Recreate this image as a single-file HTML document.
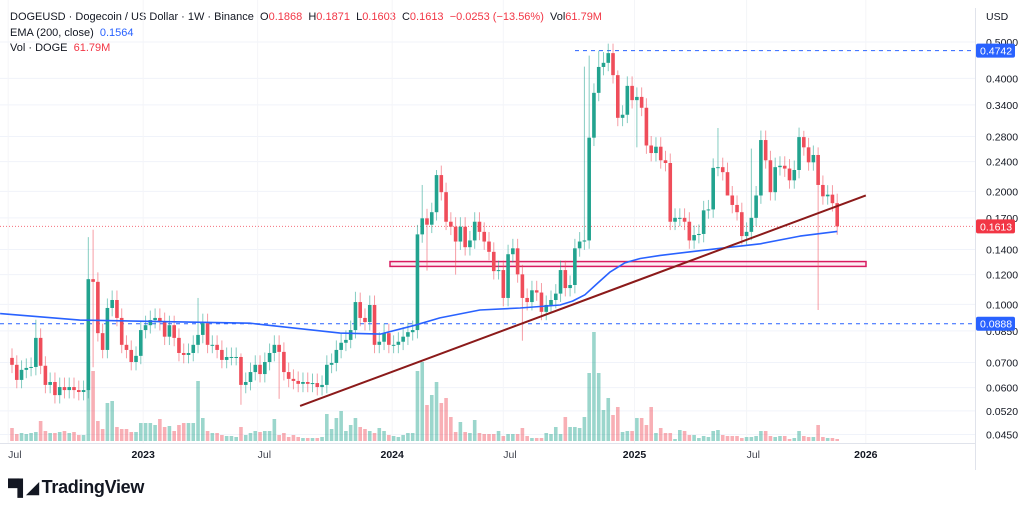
<!DOCTYPE html>
<html><head><meta charset="utf-8">
<style>
html,body{margin:0;padding:0;background:#fff;}
body{width:1024px;height:516px;overflow:hidden;position:relative;font-family:"Liberation Sans",sans-serif;}
.hdr{position:absolute;left:10px;font-size:11px;color:#131722;white-space:nowrap;}
.r{color:#f23645}.b{color:#2962ff}
</style></head>
<body>
<div class="hdr" style="top:11px">DOGEUSD · Dogecoin / US Dollar · 1W · Binance&nbsp; O<span class="r">0.1868</span>&nbsp; H<span class="r">0.1871</span>&nbsp; L<span class="r">0.1603</span>&nbsp; C<span class="r">0.1613</span>&nbsp; <span class="r">−0.0253 (−13.56%)</span>&nbsp; Vol<span class="r">61.79M</span></div>
<div class="hdr" style="top:27px">EMA (200, close)&nbsp; <span class="b">0.1564</span></div>
<div class="hdr" style="top:42px">Vol · DOGE&nbsp; <span class="r">61.79M</span></div>
<svg id="chart" width="1024" height="516" style="position:absolute;left:0;top:0" xmlns="http://www.w3.org/2000/svg"></svg>
<div style="position:absolute;left:8px;top:477px;font-size:18px;font-weight:bold;color:#131722;letter-spacing:-0.3px"><span style="font-size:16px;letter-spacing:-2px">▀▌◢</span> TradingView</div>
<script>
const closes=[0.0690,0.0629,0.0669,0.0677,0.0681,0.0814,0.0686,0.0610,0.0621,0.0573,0.0602,0.0591,0.0602,0.0591,0.0584,0.0591,
0.1167,0.1148,0.0838,0.0756,0.0978,0.1027,0.0920,0.0780,0.0756,0.0702,0.0729,0.0854,0.0880,0.0908,0.0920,0.0897,0.0820,0.0880,0.0814,0.0742,
0.0733,0.0742,0.0780,0.0829,0.0891,0.0780,0.0780,0.0756,0.0711,0.0724,0.0724,0.0724,0.0610,0.0621,0.0660,0.0690,0.0652,0.0702,0.0742,0.0780,
0.0747,0.0660,0.0633,0.0625,0.0614,0.0621,0.0614,0.0617,0.0602,0.0610,0.0690,0.0698,0.0756,0.0790,0.0804,0.0854,0.1014,0.0920,0.0897,0.0996,
0.0780,0.0795,0.0838,0.0780,0.0780,0.0795,0.0820,0.0843,0.0854,0.1536,
0.1695,0.1630,0.176,0.221,0.199,0.166,0.161,0.147,0.161,0.142,0.148,0.166,0.156,0.147,0.138,0.1226,0.1234,0.1040,0.136,0.141,0.1202,0.1040,0.1014,0.109,0.1075,0.0955,0.0996,0.1027,0.1068,0.1234,0.1105,0.1126,0.141,0.147,0.148,
0.278,0.366,0.429,0.440,0.467,0.408,0.314,0.320,0.382,0.350,0.357,0.334,0.265,0.253,0.263,0.242,0.238,0.166,0.170,0.170,0.166,0.148,0.153,0.154,0.178,0.179,0.231,0.232,0.225,0.195,0.184,0.176,0.152,0.156,0.170,0.195,0.274,0.242,0.199,0.232,0.234,0.230,0.214,0.228,0.279,0.262,0.239,0.250,0.208,0.194,0.196,0.186,0.1613];
const firstOpen=0.072;
const volumes=[13,7,8,7,8,9,20,10,8,8,9,10,8,9,6,6,
85,70,20,12,38,40,14,12,12,9,9,18,18,18,16,22,14,15,10,16,18,18,18,60,23,10,8,8,6,5,5,4,14,6,8,10,9,10,10,22,6,8,4,6,4,3,3,3,3,4,27,12,23,30,10,16,23,14,12,10,8,13,10,6,5,4,6,8,8,70,
79,36,46,59,38,43,24,9,19,9,8,21,8,7,7,7,10,5,7,7,7,13,5,3,3,3,8,7,14,7,24,14,14,13,24,
68,109,68,31,43,26,34,9,10,10,23,23,16,34,8,13,8,8,2,11,10,6,6,3,5,4,10,11,6,5,5,5,3,4,4,5,10,10,5,4,5,5,2,3,10,5,4,4,16,4,3,3,2];
const highIdx=[5,16,17,39,48,72,86,89,120,121,123,124,127,155,166,148,169];
const highVals=[0.091,0.151,0.158,0.104,0.074,0.108,0.208,0.228,0.43,0.46,0.474,0.47,0.42,0.26,0.29,0.295,0.262];
const lowIdx=[17,48,56,87,93,107,131,150,169];
const lowVals=[0.068,0.054,0.056,0.123,0.120,0.080,0.262,0.204,0.0966];
const emaIdx=[-2.5,14.2,49.9,68.8,77.2,84.5,89.7,98.1,106.5,114.9,117.5,120.1,122.8,125.4,128.5,131.7,135.9,142.2,148.5,156.9,165.2,173];
const emaVals=[0.0945,0.0908,0.0891,0.0838,0.0833,0.0880,0.0920,0.0966,0.0978,0.0996,0.1020,0.1060,0.1140,0.1220,0.1290,0.1325,0.135,0.138,0.141,0.145,0.152,0.1564];
const priceTicks=[0.5,0.4,0.34,0.28,0.24,0.2,0.17,0.14,0.12,0.1,0.085,0.07,0.06,0.052,0.045];
const tickLabels=["0.5000","0.4000","0.3400","0.2800","0.2400","0.2000","0.1700","0.1400","0.1200","0.1000","0.0850","0.0700","0.0600","0.0520","0.0450"];
const timeLabels=["Jul","2023","Jul","2024","Jul","2025","Jul","2026"];
const timeIdx=[-0.8,27.5,51.5,79.7,103,130.5,154,179];
const trendIdx=[60.4,179];
const trendVals=[0.0536,0.195];
const zoneVals=[0.1300,0.1262];
const lastPrice=0.1613, athLevel=0.4742, supportLevel=0.0888;

const NS="http://www.w3.org/2000/svg";
const svg=document.getElementById('chart');
const X=i=>12+i*4.77;
const Y=p=>42+163*Math.log(0.5/p);
const VB=441, VK=1.0;
function el(t,a,parent){const e=document.createElementNS(NS,t);for(const k in a)e.setAttribute(k,a[k]);(parent||svg).appendChild(e);return e;}
const GREEN="#22a38f",RED="#ef4d5a";
priceTicks.forEach((p,i)=>{
  const g=el('line',{x1:0,x2:975,y1:Y(p),y2:Y(p),stroke:'#f0f3fa','stroke-width':1});
  
  
  const t=el('text',{x:986,y:Y(p)+4,'font-size':10.5,fill:'#131722','font-family':'Liberation Sans, sans-serif'});
  t.textContent=tickLabels[i];
  
  
});
timeIdx.forEach((ix,i)=>{
  const g=el('line',{x1:X(ix),x2:X(ix),y1:0,y2:443,stroke:'#f4f5f8','stroke-width':1});
  
  
  const bold=/^\d/.test(timeLabels[i]);
  const t=el('text',{x:X(ix),y:458,'font-size':10.5,'text-anchor':bold?'middle':'start',fill:bold?'#131722':'#434651','font-weight':bold?'bold':'normal','font-family':'Liberation Sans, sans-serif'});
  t.textContent=timeLabels[i];
  
  
});
let ax=el('line',{x1:975.5,x2:975.5,y1:8,y2:470,stroke:'#e0e3eb'});


let bx=el('line',{x1:0,x2:975,y1:443.5,y2:443.5,stroke:'#e0e3eb'});


let usd=el('text',{x:986,y:20,'font-size':10.5,fill:'#131722','font-family':'Liberation Sans, sans-serif'});
usd.textContent='USD';


let z=el('rect',{x:390,y:Y(zoneVals[0]),width:476,height:Y(zoneVals[1])-Y(zoneVals[0]),fill:'rgba(233,30,99,0.08)',stroke:'#d81b60','stroke-width':1.5});


closes.forEach((c,i)=>{
  const o=i?closes[i-1]:firstOpen;
  const h=volumes[i]*VK;
  const r=el('rect',{x:X(i)-1.8,y:VB-h,width:3.6,height:h,fill:c>=o?'rgba(34,163,143,0.45)':'rgba(239,77,90,0.45)'});
  
  
});
let l1=el('line',{x1:575,x2:975,y1:Y(athLevel),y2:Y(athLevel),stroke:'#2962ff','stroke-dasharray':'4 4','stroke-width':1});


let l2=el('line',{x1:0,x2:975,y1:Y(supportLevel),y2:Y(supportLevel),stroke:'#2962ff','stroke-dasharray':'4 4','stroke-width':1});


let l3=el('line',{x1:0,x2:975,y1:Y(lastPrice),y2:Y(lastPrice),stroke:'#f23645','stroke-dasharray':'1 2','stroke-width':1,opacity:0.7});


closes.forEach((c,i)=>{
  const o=i?closes[i-1]:firstOpen;
  let hi=Math.max(o,c)*1.06, lo=Math.min(o,c)*0.95;
  const hk=highIdx.indexOf(i); if(hk>=0)hi=highVals[hk];
  const lk=lowIdx.indexOf(i); if(lk>=0)lo=lowVals[lk];
  const col=c>=o?GREEN:RED;
  const g=el('g',{});
  
  
  el('line',{x1:X(i),x2:X(i),y1:Y(hi),y2:Y(lo),stroke:col,'stroke-width':1,opacity:0.55},g);
  const top=Y(Math.max(o,c)),bot=Y(Math.min(o,c));
  el('rect',{x:X(i)-1.8,y:top,width:3.6,height:Math.max(1,bot-top),fill:col},g);
});
let d='';emaIdx.forEach((ix,i)=>{d+=(i?'L':'M')+X(ix).toFixed(1)+','+Y(emaVals[i]).toFixed(1);});
let ema=el('path',{d:d,fill:'none',stroke:'#2962ff','stroke-width':1.6,'stroke-linejoin':'round'});


let tr=el('line',{x1:X(trendIdx[0]),y1:Y(trendVals[0]),x2:X(trendIdx[1]),y2:Y(trendVals[1]),stroke:'#8b1a1a','stroke-width':2});


function badge(p,txt,col,name){
  const g=el('g',{});
  
  
  el('rect',{x:976,y:Y(p)-7,width:39,height:14,fill:col,rx:2},g);
  const t=el('text',{x:980,y:Y(p)+4,'font-size':10.5,fill:'#fff','font-family':'Liberation Sans, sans-serif'},g);
  t.textContent=txt;
}
badge(athLevel,'0.4742','#2962ff','ath-price-badge');
badge(lastPrice,'0.1613','#f23645','last-price-badge');
badge(supportLevel,'0.0888','#2962ff','support-price-badge');
</script>
</body></html>
